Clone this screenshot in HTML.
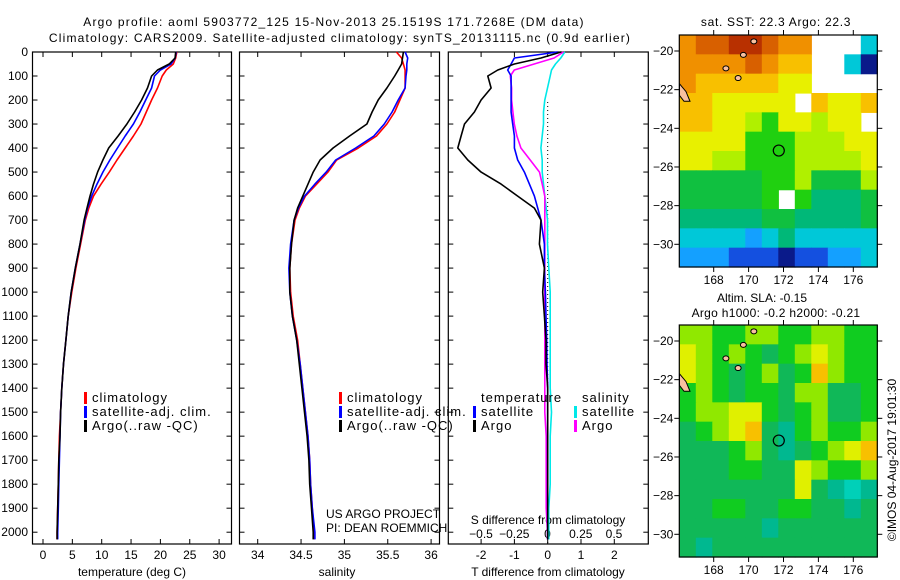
<!DOCTYPE html>
<html><head><meta charset="utf-8"><style>
html,body{margin:0;padding:0;background:#fff;}
svg{display:block;font-family:"Liberation Sans",sans-serif;font-size:12px;}
.ttl{letter-spacing:1.2px;}
.lg{font-size:13px;letter-spacing:1px;}
</style></head><body>
<svg id="c" width="900" height="580" viewBox="0 0 900 580">
<text class="ttl" x="334" y="26" text-anchor="middle">Argo profile: aoml 5903772_125 15-Nov-2013 25.1519S 171.7268E (DM data)</text>
<text class="ttl" x="340" y="42" text-anchor="middle">Climatology: CARS2009. Satellite-adjusted climatology: synTS_20131115.nc (0.9d earlier)</text>
<text x="776" y="26" text-anchor="middle" style="letter-spacing:0.7px">sat. SST: 22.3 Argo: 22.3</text>
<text x="762" y="302" text-anchor="middle">Altim. SLA: -0.15</text>
<text x="776" y="317" text-anchor="middle" style="letter-spacing:0.3px">Argo h1000: -0.2 h2000: -0.21</text>
<text transform="translate(896,460) rotate(-90)" text-anchor="middle">©IMOS 04-Aug-2017 19:01:30</text>
<text x="326" y="518">US ARGO PROJECT</text>
<text x="326" y="532">PI: DEAN ROEMMICH</text>
<text x="132" y="576" text-anchor="middle">temperature (deg C)</text>
<text x="337" y="576" text-anchor="middle">salinity</text>
<text x="548" y="576" text-anchor="middle">T difference from climatology</text>
<text x="548" y="524" text-anchor="middle">S difference from climatology</text>
</svg>
<script>
const depths=[0,25,50,75,100,150,200,250,300,350,400,450,500,550,600,650,700,800,900,1000,1100,1200,1300,1400,1500,1600,1700,1800,1900,2000,2030];
const tArgo=[22.6,22.5,21.5,19.5,18.5,17.8,16.8,15.6,14.3,12.8,11.2,10.2,9.3,8.6,8.0,7.5,7.0,6.3,5.5,4.8,4.3,3.9,3.5,3.2,3.0,2.9,2.7,2.6,2.5,2.4,2.4];
const tClim=[22.8,22.6,22.2,21.0,20.3,19.5,18.5,17.6,16.7,15.4,14.0,12.6,11.3,9.9,8.6,7.8,7.2,6.4,5.6,4.9,4.3,3.9,3.5,3.2,3.0,2.8,2.7,2.6,2.5,2.4,2.4];
const tSat=[22.7,22.5,21.8,20.0,19.0,18.5,17.5,16.5,15.4,14.0,12.7,11.4,10.2,9.2,8.3,7.6,7.1,6.3,5.5,4.8,4.3,3.9,3.5,3.2,3.0,2.9,2.8,2.7,2.6,2.5,2.5];
const sArgo=[35.68,35.67,35.66,35.62,35.58,35.49,35.39,35.32,35.26,35.06,34.87,34.72,34.64,34.58,34.52,34.46,34.42,34.39,34.37,34.37,34.40,34.45,34.48,34.51,34.54,34.57,34.59,34.60,34.62,34.64,34.64];
const sClim=[35.60,35.66,35.68,35.70,35.70,35.70,35.64,35.58,35.49,35.37,35.16,34.91,34.81,34.68,34.55,34.48,34.43,34.39,34.37,34.38,34.41,34.46,34.49,34.52,34.55,34.58,34.60,34.61,34.63,34.65,34.65];
const sSat=[35.70,35.73,35.72,35.72,35.71,35.70,35.62,35.55,35.46,35.34,35.13,34.90,34.79,34.66,34.54,34.47,34.42,34.38,34.36,34.37,34.40,34.45,34.49,34.52,34.55,34.58,34.60,34.61,34.63,34.66,34.66];
const dTArgo=[0.4,-0.2,-1.0,-1.5,-1.8,-1.7,-2.0,-2.2,-2.5,-2.6,-2.7,-2.4,-2.0,-1.4,-0.9,-0.4,-0.2,-0.25,-0.1,-0.15,-0.1,-0.05,-0.05,0,0,0,0,0,0,0,0];
const dTSat=[0.3,-1.0,-1.1,-1.2,-1.1,-1.1,-1.1,-1.1,-1.05,-1.0,-1.0,-0.9,-0.7,-0.55,-0.4,-0.3,-0.2,-0.1,-0.1,-0.07,-0.05,-0.03,-0.02,0,0,0,0,0,0,0,0];
const dSArgo=[0.12,0.05,-0.1,-0.25,-0.28,-0.27,-0.27,-0.26,-0.25,-0.23,-0.2,-0.13,-0.06,-0.04,-0.02,-0.02,-0.02,-0.02,-0.02,-0.02,-0.02,-0.02,-0.02,-0.02,-0.02,-0.01,-0.01,-0.01,-0.01,0,0];
const dSSat=[0.13,0.1,0.06,0.03,0.02,0,-0.02,-0.03,-0.03,-0.04,-0.05,-0.04,-0.04,-0.03,-0.02,-0.01,0,0,0.01,0.02,0.02,0.02,0.02,0.02,0.03,0.02,0.02,0.02,0.01,0.01,0.01];
const depthTicks=[0,100,200,300,400,500,600,700,800,900,1000,1100,1200,1300,1400,1500,1600,1700,1800,1900,2000];
const tTicks=[0,5,10,15,20,25,30];
const sTicks=[34,34.5,35,35.5,36];
const sTickLabels=["34","34.5","35","35.5","36"];
const dtTicks=[-2,-1,0,1,2];
const dsTicks=[-0.5,-0.25,0,0.25,0.5];
const dsTickLabels=["\u22120.5","\u22120.25","0","0.25","0.5"];
const latTicks=[-20,-22,-24,-26,-28,-30];
const lonTicks=[168,170,172,174,176];
const sstField=[
[10,11,11,12,12,11,10,10,-1,-1,-1,3],
[10,10,10,10,11,10,9,9,-1,-1,3,0],
[10,9,9,9,9,9,8,8,-1,-1,-1,-1],
[9,9,8,8,8,8,8,-1,9,8,8,9],
[9,9,8,8,7,6,8,8,7,8,8,-1],
[8,8,8,8,6,6,6,7,7,7,8,8],
[8,8,7,7,6,6,6,7,7,7,7,8],
[5,5,5,5,5,6,6,7,5,5,5,7],
[5,5,5,5,5,6,-1,6,4,4,4,5],
[4,4,4,4,4,5,5,4,4,4,4,5],
[3,3,3,3,2,3,4,3,3,3,3,3],
[2,2,2,1,1,1,0,1,1,2,2,3]];
const slaField=[
[7,7,6,6,7,7,6,6,7,7,6,6],
[8,7,6,7,6,5,6,7,8,7,6,6],
[8,7,6,5,6,7,5,6,9,7,6,6],
[6,7,6,5,6,6,5,7,7,5,5,6],
[6,7,7,8,8,6,5,6,7,5,5,6],
[5,6,7,8,9,5,4,6,7,6,6,7],
[5,5,5,6,7,5,4,5,6,7,8,9],
[5,5,5,6,6,5,5,8,7,6,6,7],
[5,5,5,5,5,5,5,8,5,4,3,4],
[5,5,6,6,5,5,6,6,5,5,4,5],
[5,5,5,5,5,4,5,5,5,5,5,5],
[5,4,5,5,5,5,5,5,5,5,5,5]];
const argoLon=171.73, argoLat=-25.15;

const svg=document.getElementById('c');
const NS='http://www.w3.org/2000/svg';
function mk(tag,attrs,parent){const e=document.createElementNS(NS,tag);for(const k in attrs)e.setAttribute(k,attrs[k]);(parent||svg).appendChild(e);return e;}
const yD=d=>52+0.2401*d;
const xT=t=>43+5.87*t;
const xS=s=>257.7+86.7*(s-34);
const xDT=v=>547.7+33.3*v;
const xDS=v=>547.5+133*v;
const BOT=544, TOP=52;
const panels=[[32.5,231.5,'temperature-panel'],[239.5,439.5,'salinity-panel'],[448.3,648.3,'difference-panel']];
panels.forEach(p=>{
  const g=mk('g',{});
  
  
  const r=mk('rect',{x:p[0],y:TOP,width:p[1]-p[0],height:BOT-TOP,fill:'none',stroke:'#000','stroke-width':1.2},g);
  
  
  depthTicks.forEach(d=>{
    mk('line',{x1:p[0],x2:p[0]+5,y1:yD(d),y2:yD(d),stroke:'#000'},g);
    mk('line',{x1:p[1]-5,x2:p[1],y1:yD(d),y2:yD(d),stroke:'#000'},g);
  });
});
depthTicks.forEach(d=>{
  const t=mk('text',{x:28,y:yD(d)+4,'text-anchor':'end'});t.textContent=d;
  
  
});
function xticks(vals,labels,fx,y,topTick){
  vals.forEach((v,i)=>{
    const x=fx(v);
    mk('line',{x1:x,x2:x,y1:BOT,y2:BOT-5,stroke:'#000'});
    if(topTick) mk('line',{x1:x,x2:x,y1:TOP,y2:TOP+5,stroke:'#000'});
    const t=mk('text',{x:x,y:y,'text-anchor':'middle'});t.textContent=labels[i];
    
    
  });
}
xticks(tTicks,tTicks.map(String),xT,559,true);
xticks(sTicks,sTickLabels,xS,559,true);
xticks(dtTicks,dtTicks.map(String),xDT,559,true);
dsTicks.forEach((v,i)=>{const t=mk('text',{x:xDS(v),y:538,'text-anchor':'middle'});t.textContent=dsTickLabels[i];
  
  });
mk('line',{x1:xDT(0),x2:xDT(0),y1:TOP+50,y2:BOT,stroke:'#000','stroke-dasharray':'1,3'});
function line(xs,fx,color,name,w){
  const pts=depths.map((d,i)=>fx(xs[i]).toFixed(1)+','+yD(d).toFixed(1)).join(' ');
  const pl=mk('polyline',{points:pts,fill:'none',stroke:color,'stroke-width':w||1.6,'stroke-linejoin':'round'});
  
  
}
line(tClim,xT,'#f00','temp-climatology-line');
line(tSat,xT,'#00f','temp-satellite-line');
line(tArgo,xT,'#000','temp-argo-line');
line(sClim,xS,'#f00','sal-climatology-line');
line(sSat,xS,'#00f','sal-satellite-line');
line(sArgo,xS,'#000','sal-argo-line');
line(dSSat,xDS,'#00e8e8','sdiff-satellite-line');
line(dSArgo,xDS,'#f0f','sdiff-argo-line');
line(dTSat,xDT,'#00f','tdiff-satellite-line');
line(dTArgo,xDT,'#000','tdiff-argo-line');
function leg(x,y,color,label){
  if(color){const r=mk('rect',{x:x,y:y-10,width:3,height:12,fill:color});
    
    }
  const t=mk('text',{x:x+(color?8:0),y:y,'class':'lg'});t.textContent=label;
  
  
}
leg(84,402,'#f00','climatology');leg(84,416,'#00f','satellite-adj. clim.');leg(84,430,'#000','Argo(..raw -QC)');
leg(339,402,'#f00','climatology');leg(339,416,'#00f','satellite-adj. clim.');leg(339,430,'#000','Argo(..raw -QC)');
leg(481,402,null,'temperature');leg(473,416,'#00f','satellite');leg(473,430,'#000','Argo');
leg(582,402,null,'salinity');leg(574,416,'#00e8e8','satellite');leg(574,430,'#f0f','Argo');

const sstColors=['#0a1a8a','#1450e0','#14a0ff','#00c8d8','#00b878','#10c040','#20d010','#b0f000','#e8f000','#f8c000','#f09000','#d86000','#b83000'];
const slaColors=['#0a1a8a','#1450e0','#14a0ff','#00d0b8','#00b890','#10b858','#10cc20','#90e800','#e0f000','#f8c000'];
function drawMap(field,colors,oy,name){
  const L=679.3,R=877.3,T=35+oy,B=267+oy;
  const g=mk('g',{});
  
  
  const rows=field.length,cols=field[0].length,cw=(R-L)/cols,ch=(B-T)/rows;
  field.forEach((row,i)=>row.forEach((v,j)=>{
    if(v<0)return;
    const c=mk('rect',{x:L+j*cw,y:T+i*ch,width:cw+0.6,height:ch+0.6,fill:colors[v]},g);
    
    
  }));
  const lonX=l=>713.7+17.45*(l-168), latY=la=>51+oy+19.33*(-20-la);
  const land=mk('polygon',{points:[[679.5,latY(-21.7)],[686,latY(-22.1)],[690,latY(-22.6)],[684,latY(-22.6)],[679.5,latY(-22.3)]].map(p=>p.join(',')).join(' '),fill:'#f8c0a0',stroke:'#000','stroke-width':1},g);
  
  
  [[168.7,-20.9],[169.4,-21.4],[170.3,-19.5],[169.7,-20.2]].forEach(p=>{
    const e=mk('ellipse',{cx:lonX(p[0]),cy:latY(p[1]),rx:3,ry:2.5,fill:'#f8c0a0',stroke:'#000'},g);
    
    
  });
  const fr=mk('rect',{x:L,y:T,width:R-L,height:B-T,fill:'none',stroke:'#000','stroke-width':1.2},g);
  
  
  const ci=mk('circle',{cx:lonX(argoLon),cy:latY(argoLat),r:5.5,fill:'none',stroke:'#000','stroke-width':1.2},g);
  
  
  latTicks.forEach(la=>{
    const y=latY(la);
    mk('line',{x1:L-5,x2:L,y1:y,y2:y,stroke:'#000'},g);
    mk('line',{x1:R,x2:R+5,y1:y,y2:y,stroke:'#000'},g);
    const t=mk('text',{x:L-6,y:y+4,'text-anchor':'end'},g);t.textContent=String(la).replace('-','\u2212');
    
    
  });
  lonTicks.forEach(lo=>{
    const x=lonX(lo);
    mk('line',{x1:x,x2:x,y1:B,y2:B+5,stroke:'#000'},g);
    mk('line',{x1:x,x2:x,y1:T-5,y2:T,stroke:'#000'},g);
    const t=mk('text',{x:x,y:B+17,'text-anchor':'middle'},g);t.textContent=lo;
    
    
  });
}
drawMap(sstField,sstColors,0,'sst-map');
drawMap(slaField,slaColors,290,'sla-map');
</script>
</body></html>
